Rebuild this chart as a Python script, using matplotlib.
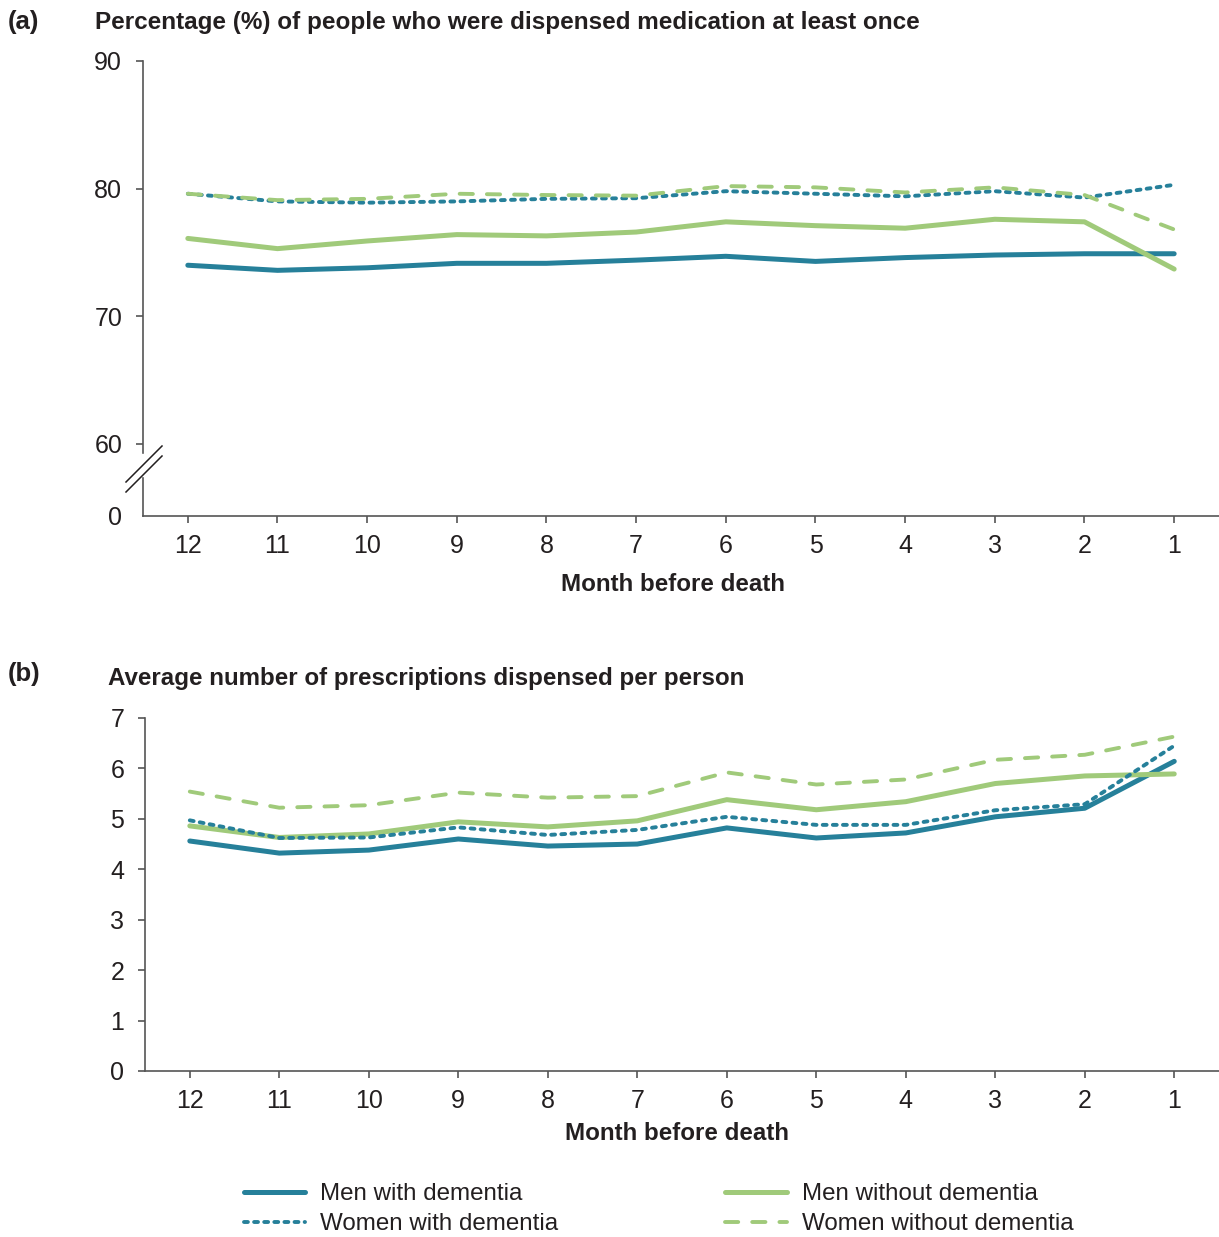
import numpy as np
import matplotlib.pyplot as plt
from matplotlib.lines import Line2D

plt.rcParams['font.family'] = ['Liberation Sans', 'DejaVu Sans']

months = ['12', '11', '10', '9', '8', '7', '6', '5', '4', '3', '2', '1']

# (a) percentage of people dispensed medication at least once
pct_men_dem = [74.0, 73.6, 73.8, 74.15, 74.15, 74.4, 74.7, 74.3, 74.6, 74.8, 74.9, 74.9]
pct_men_nodem = [76.1, 75.3, 75.9, 76.4, 76.3, 76.6, 77.4, 77.1, 76.9, 77.6, 77.4, 73.7]
pct_women_dem = [79.6, 79.0, 78.9, 79.0, 79.2, 79.25, 79.8, 79.6, 79.4, 79.8, 79.3, 80.3]
pct_women_nodem = [79.6, 79.1, 79.2, 79.6, 79.5, 79.45, 80.2, 80.1, 79.7, 80.1, 79.5, 76.8]

# (b) average number of prescriptions per person
rx_men_dem = [4.56, 4.32, 4.38, 4.60, 4.46, 4.50, 4.82, 4.62, 4.72, 5.04, 5.21, 6.14]
rx_men_nodem = [4.86, 4.63, 4.70, 4.94, 4.84, 4.96, 5.38, 5.18, 5.34, 5.70, 5.85, 5.89]
rx_women_dem = [4.97, 4.62, 4.63, 4.83, 4.68, 4.78, 5.04, 4.88, 4.88, 5.17, 5.29, 6.45]
rx_women_nodem = [5.54, 5.22, 5.27, 5.52, 5.42, 5.45, 5.92, 5.68, 5.78, 6.17, 6.27, 6.63]

labels = ['Men with dementia', 'Women with dementia',
          'Men without dementia', 'Women without dementia']

teal = '#26809a'
green = '#a0ca7a'
ink = '#231f20'
spine_col = '#555555'
fs = 17.4

styles = {
    'Men with dementia': dict(color=teal, lw=3.6, ls='-', solid_capstyle='round'),
    'Men without dementia': dict(color=green, lw=3.6, ls='-', solid_capstyle='round'),
    'Women with dementia': dict(color=teal, lw=2.8, ls=(0, (1.0, 1.6)), dash_capstyle='round'),
    'Women without dementia': dict(color=green, lw=2.8, ls=(0, (3.4, 3.6)), dash_capstyle='round'),
}

x = np.arange(len(months))

fig = plt.figure(figsize=(12.19, 12.37), dpi=100)
ax1 = fig.add_axes([0.1173, 0.5829, 0.8827, 0.3678])
ax2 = fig.add_axes([0.1190, 0.1342, 0.8810, 0.2854])


def style_axes(ax):
    for s in ['top', 'right']:
        ax.spines[s].set_visible(False)
    for s in ['left', 'bottom']:
        ax.spines[s].set_color(spine_col)
        ax.spines[s].set_linewidth(1.2)
    ax.set_xlim(-0.5, len(months) - 0.5)
    ax.set_xticks(x)
    ax.set_xticklabels(months)
    ax.tick_params(axis='both', colors=spine_col, labelcolor=ink, labelsize=18,
                   width=1.2, length=5)
    ax.tick_params(axis='x', pad=8)
    ax.tick_params(axis='y', pad=10)


# top panel with a broken y axis
series_a = {'Men with dementia': pct_men_dem, 'Men without dementia': pct_men_nodem,
            'Women with dementia': pct_women_dem, 'Women without dementia': pct_women_nodem}
for name, vals in series_a.items():
    ax1.plot(x, vals, **styles[name])
style_axes(ax1)
y0 = 54.36
ax1.set_ylim(y0, 90)
ax1.set_yticks([y0, 60, 70, 80, 90])
ax1.set_yticklabels(['0', '60', '70', '80', '90'])
ax1.yaxis.get_major_ticks()[0].tick1line.set_visible(False)
ax1.set_xlabel('Month before death', fontsize=fs, fontweight='bold', color=ink)
ax1.xaxis.set_label_coords(0.4926, -0.125)

# break marks on the left spine
def px(xp, yp):
    return xp / 1219, 1 - yp / 1237

fig.patches.append(plt.Rectangle(px(139, 476), 10 / 1219, 22 / 1237,
                                 transform=fig.transFigure, color='white', zorder=5))
for off in (0, 10):
    a = px(126, 482 + off)
    b = px(162, 446 + off)
    fig.add_artist(Line2D([a[0], b[0]], [a[1], b[1]], color=ink, lw=1.1, zorder=6))

# bottom panel
series_b = {'Men with dementia': rx_men_dem, 'Men without dementia': rx_men_nodem,
            'Women with dementia': rx_women_dem, 'Women without dementia': rx_women_nodem}
for name, vals in series_b.items():
    ax2.plot(x, vals, **styles[name])
style_axes(ax2)
ax2.set_ylim(0, 7)
ax2.set_yticks(range(0, 8))
ax2.set_xlabel('Month before death', fontsize=fs, fontweight='bold', color=ink)
ax2.xaxis.set_label_coords(0.495, -0.145)

# panel titles
fig.text(8 / 1219, 1 - 22 / 1237, '(a)', fontsize=18.5, fontweight='bold', color=ink, va='center')
fig.text(95 / 1219, 1 - 23 / 1237,
         'Percentage (%) of people who were dispensed medication at least once',
         fontsize=17.5, fontweight='bold', color=ink, va='center')
fig.text(8 / 1219, 1 - 674 / 1237, '(b)', fontsize=18.5, fontweight='bold', color=ink, va='center')
fig.text(108 / 1219, 1 - 678 / 1237, 'Average number of prescriptions dispensed per person',
         fontsize=fs, fontweight='bold', color=ink, va='center')

# legend
handles = [Line2D([], [], **styles[n]) for n in labels]
fig.legend(handles, labels, ncol=2, loc='center left',
           bbox_to_anchor=(222 / 1219, 1 - 1209 / 1237), frameon=False,
           fontsize=fs, handlelength=2.55, handletextpad=0.62, columnspacing=6.9,
           labelspacing=0.33, labelcolor=ink)

fig.savefig('out.png', dpi=100)
